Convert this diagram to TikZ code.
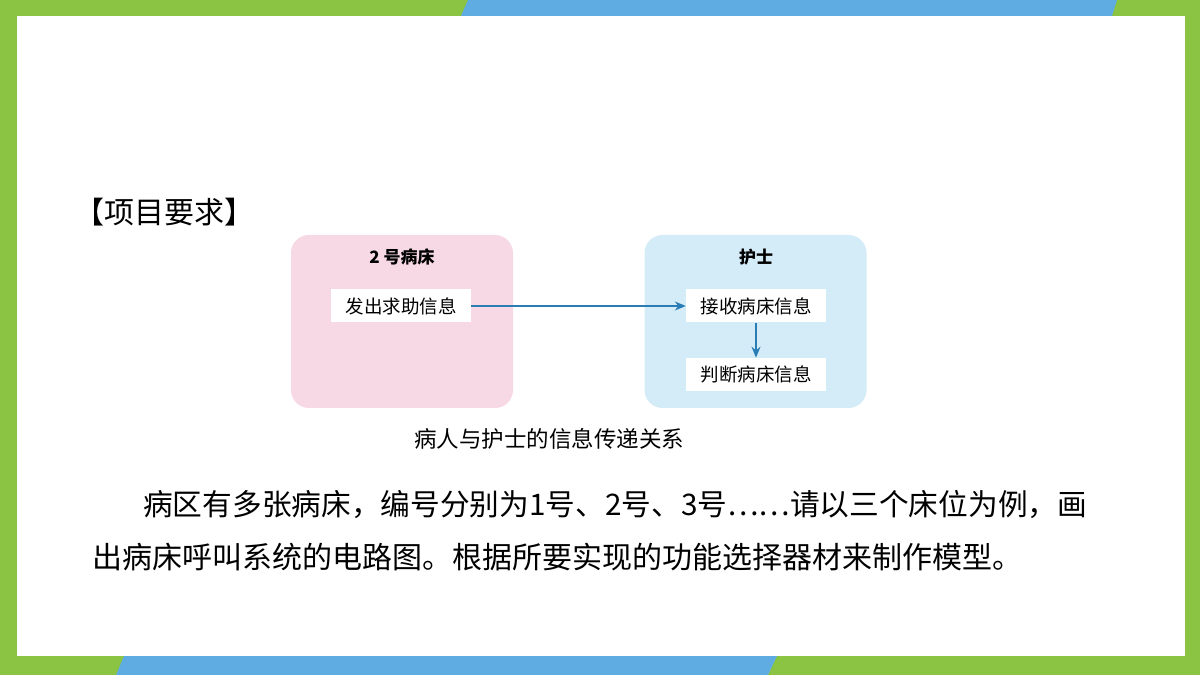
\documentclass[tikz,border=0pt]{standalone}
\usepackage{fontspec}
\setmainfont{Noto Sans CJK SC}
\usetikzlibrary{positioning,arrows.meta}
\definecolor{framegreen}{RGB}{139,195,66}
\definecolor{frameblue}{RGB}{94,172,226}
\definecolor{bedpink}{RGB}{247,216,229}
\definecolor{nurseblue}{RGB}{212,236,247}
\definecolor{arrowblue}{RGB}{42,125,180}

\begin{document}
\begin{tikzpicture}[x=1pt,y=1pt,
  every node/.style={inner sep=0pt},
  panel/.style={rounded corners=18pt, minimum width=222pt, minimum height=173pt},
  msgbox/.style={fill=white, minimum width=140pt, minimum height=33pt, font=\fontsize{18.5}{20}\selectfont},
  flow/.style={arrowblue, line width=1.3pt, -{Stealth[length=11pt,width=9pt]}}]
\useasboundingbox (0,0) rectangle (1200,675);
% frame
\fill[framegreen] (0,0) rectangle (1200,675);
\fill[frameblue] (468,675) -- (1117,675) -- (1112,659) -- (461,659) -- cycle;
\fill[frameblue] (124,19) -- (777,19) -- (768,0) -- (116,0) -- cycle;
\fill[white] (17,19) rectangle (1185,659);
% heading
\node[anchor=west, font=\fontsize{30}{34}\selectfont] (head) at (74,463) {【项目要求】};
% diagram
\node[panel, fill=bedpink] (bed) at (402,353.5) {};
\node[panel, fill=nurseblue] (nurse) at (755.5,353.5) {};
\node[font=\fontsize{17}{20}\selectfont\bfseries] (bedtitle) at (402,418) {2 号病床};
\node[font=\fontsize{17}{20}\selectfont\bfseries] (nursetitle) at (756,418) {护士};
\node[msgbox] (send) at (401,369) {发出求助信息};
\node[msgbox] (recv) at (756,369) {接收病床信息};
\node[msgbox, below=35pt of recv] (judge) {判断病床信息};
\draw[flow] (send) -- (recv);
\draw[flow] (recv) -- (judge);
\node[font=\fontsize{22.5}{26}\selectfont] (caption) at (549,236) {病人与护士的信息传递关系};
% text
\node[anchor=west, font=\fontsize{29.7}{34}\selectfont] (line1) at (143,170) {病区有多张病床，编号分别为1号、2号、3号……请以三个床位为例，画};
\node[anchor=west, font=\fontsize{30}{34}\selectfont] (line2) at (92,118) {出病床呼叫系统的电路图。根据所要实现的功能选择器材来制作模型。};
\end{tikzpicture}
\end{document}
